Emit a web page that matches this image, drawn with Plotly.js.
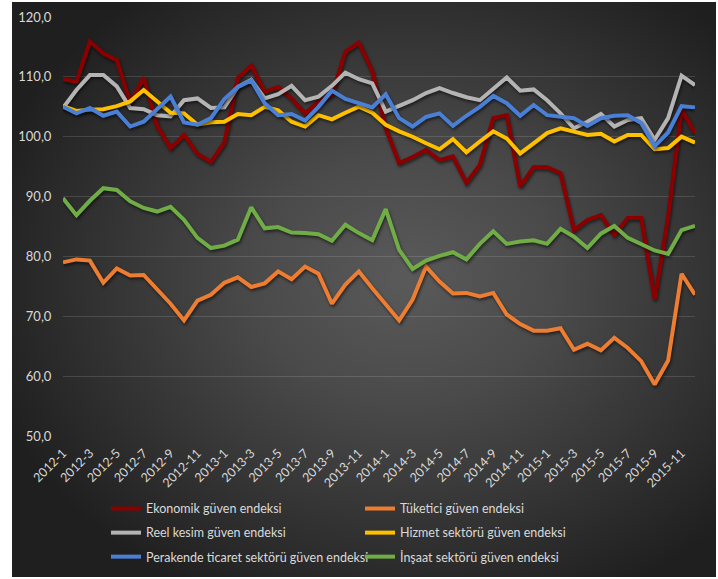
<!DOCTYPE html>
<html>
<head>
<meta charset="utf-8">
<script src="https://cdn.plot.ly/plotly-3.0.1.min.js"></script>
<style>
html,body{margin:0;padding:0;background:#ffffff;}
#bg{position:absolute;left:12px;top:2px;width:704px;height:575px;
background:radial-gradient(ellipse 62% 62% at 56% 48%, #5a5a5a 0%, #4a4a4a 35%, #333333 70%, #1f1f1f 100%);}
#chart{position:absolute;left:0;top:0;width:718px;height:579px;}
#chart .scatterlayer .trace path.js-line{filter:drop-shadow(1.5px 2px 1.5px rgba(0,0,0,0.55));}
</style>
</head>
<body>
<div id="bg"></div>
<div id="chart"></div>
<script>
const categories = [
 "2012-1","2012-2","2012-3","2012-4","2012-5","2012-6","2012-7","2012-8","2012-9","2012-10","2012-11","2012-12",
 "2013-1","2013-2","2013-3","2013-4","2013-5","2013-6","2013-7","2013-8","2013-9","2013-10","2013-11","2013-12",
 "2014-1","2014-2","2014-3","2014-4","2014-5","2014-6","2014-7","2014-8","2014-9","2014-10","2014-11","2014-12",
 "2015-1","2015-2","2015-3","2015-4","2015-5","2015-6","2015-7","2015-8","2015-9","2015-10","2015-11","2015-12"
];
const tickLabels = [
 "2012-1","2012-3","2012-5","2012-7","2012-9","2012-11",
 "2013-1","2013-3","2013-5","2013-7","2013-9","2013-11",
 "2014-1","2014-3","2014-5","2014-7","2014-9","2014-11",
 "2015-1","2015-3","2015-5","2015-7","2015-9","2015-11"
];
const yTicks = [50,60,70,80,90,100,110,120];

const ekonomik = [109.6,109.2,115.9,113.9,112.8,105.6,109.9,101.8,98.1,100.3,97.1,95.8,
 99.0,109.8,111.9,107.5,108.3,106.4,103.9,105.9,107.0,114.2,115.7,110.9,
 101.4,95.6,96.6,97.8,96.1,96.7,92.3,95.3,103.1,103.6,91.7,94.9,
 94.9,93.9,84.4,86.1,86.9,83.6,86.4,86.4,72.8,86.6,104.5,100.6];
const tuketici = [79.0,79.5,79.3,75.6,78.0,76.8,76.9,74.4,72.1,69.3,72.6,73.6,
 75.6,76.5,74.9,75.5,77.5,76.2,78.3,77.1,72.1,75.3,77.5,74.7,
 72.1,69.3,72.8,78.3,75.8,73.8,73.9,73.3,73.9,70.3,68.7,67.6,
 67.6,68.0,64.4,65.4,64.3,66.4,64.7,62.5,58.6,62.6,77.1,73.6];
const reel = [104.8,107.8,110.3,110.3,108.4,104.8,104.6,103.6,103.4,106.1,106.4,104.8,
 104.9,108.3,109.5,106.4,107.1,108.5,106.1,106.7,108.5,110.7,109.6,108.9,
 104.2,105.1,106.1,107.3,108.1,107.3,106.6,106.1,108.1,109.9,107.7,107.9,
 106.1,103.9,101.4,102.5,103.8,101.7,102.8,103.1,99.5,103.1,110.2,108.6];
const hizmet = [105.1,104.3,104.5,104.6,105.1,105.9,107.8,105.9,104.0,103.9,102.0,102.4,
 102.5,103.8,103.6,105.0,104.4,102.5,101.7,103.6,102.9,104.0,105.0,104.0,
 102.0,100.9,100.0,98.9,97.9,99.6,97.4,99.2,100.9,99.7,97.2,98.9,
 100.6,101.4,100.9,100.3,100.5,99.2,100.3,100.3,97.9,98.1,100.0,99.0];
const perakende = [105.0,103.9,104.8,103.5,104.2,101.7,102.5,104.5,106.7,102.4,102.0,103.1,
 106.3,108.3,109.4,105.6,103.6,103.8,102.7,105.0,107.7,106.3,105.6,104.9,
 107.1,103.1,101.7,103.3,103.9,101.8,103.5,105.0,106.8,105.6,103.5,105.3,
 103.6,103.3,103.1,101.8,103.1,103.5,103.6,102.3,98.4,100.7,105.1,104.9];
const insaat = [89.7,86.9,89.3,91.4,91.1,89.2,88.1,87.5,88.3,86.1,83.1,81.4,
 81.8,82.8,88.2,84.7,84.9,84.0,83.9,83.7,82.6,85.3,83.9,82.7,
 87.9,81.1,77.9,79.3,80.1,80.7,79.5,82.1,84.2,82.1,82.5,82.7,
 82.1,84.6,83.3,81.4,83.8,85.1,83.1,82.1,81.0,80.4,84.4,85.1];

const seriesNames = ["Ekonomik güven endeksi","Tüketici güven endeksi","Reel kesim güven endeksi",
 "Hizmet sektörü güven endeksi","Perakende ticaret sektörü güven endeksi","İnşaat sektörü güven endeksi"];
const seriesData = [ekonomik, tuketici, reel, hizmet, perakende, insaat];
const seriesColors = ["#8a0000","#ed7d31","#b4b4b4","#ffc000","#4a7fd6","#70ad47"];
const seriesLegend = ["legend","legend","legend2","legend2","legend3","legend3"];

const traces = seriesData.map((vals, i) => ({
  type: "scatter", mode: "lines", x: categories, y: vals, name: seriesNames[i],
  line: {color: seriesColors[i], width: 4}, legend: seriesLegend[i]
}));

const font = {family: "Lato, 'Noto Sans', sans-serif", color: "#d9d9d9"};
const legendBase = {
  orientation: "h", x: 0.068, xanchor: "left", yanchor: "middle",
  bgcolor: "rgba(0,0,0,0)", font: {family: font.family, color: "#d9d9d9", size: 12.5},
  entrywidth: 209, entrywidthmode: "pixels", itemwidth: 30
};

const layout = {
  width: 718, height: 579,
  margin: {l: 63, r: 23, t: 17, b: 143, autoexpand: false},
  paper_bgcolor: "rgba(0,0,0,0)", plot_bgcolor: "rgba(0,0,0,0)",
  font: font,
  separators: ",.",
  showlegend: true,
  xaxis: {
    type: "category", tickmode: "array", tickvals: tickLabels, ticktext: tickLabels,
    tickangle: -45, tickfont: {size: 12.5, color: "#d9d9d9"},
    showgrid: false, zeroline: false, showline: false, automargin: false,
    ticks: "outside", ticklen: 4, tickcolor: "rgba(0,0,0,0)"
  },
  yaxis: {
    range: [50, 120], tickvals: yTicks, tickformat: ".1f",
    tickfont: {size: 13, color: "#d9d9d9"},
    gridcolor: "rgba(255,255,255,0.13)", gridwidth: 1,
    zeroline: false, showline: false, automargin: false,
    ticks: "outside", ticklen: 8, tickcolor: "rgba(0,0,0,0)"
  },
  legend: Object.assign({}, legendBase, {y: -0.174}),
  legend2: Object.assign({}, legendBase, {y: -0.2315}),
  legend3: Object.assign({}, legendBase, {y: -0.2888})
};

Plotly.newPlot("chart", traces, layout, {displayModeBar: false, staticPlot: true});
</script>
</body>
</html>
